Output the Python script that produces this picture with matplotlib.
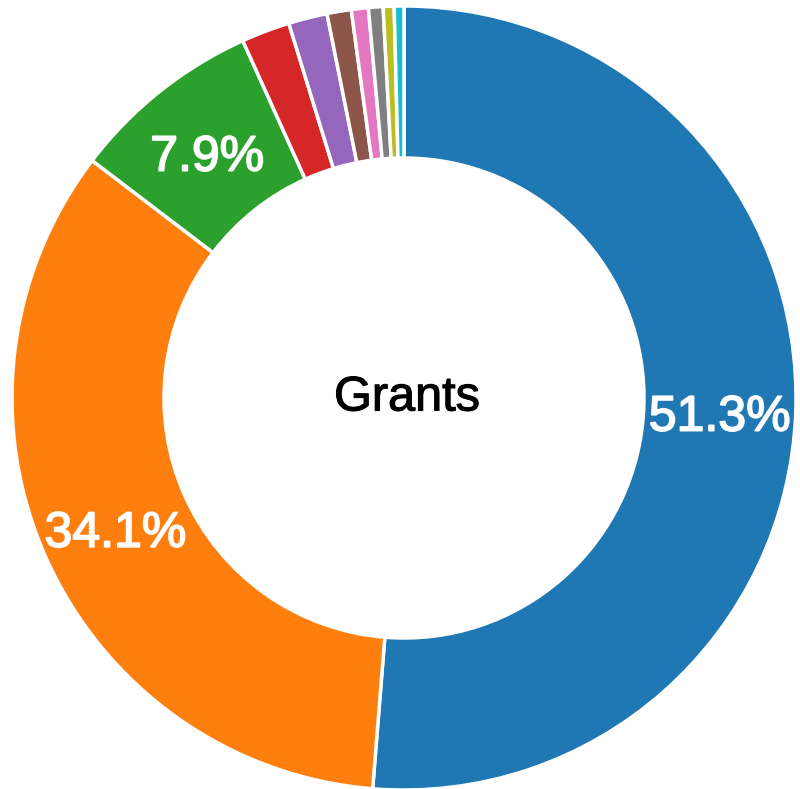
import matplotlib.pyplot as plt
import matplotlib.patheffects as pe

# Grant shares, clockwise from 12 o'clock
labels = ['A', 'B', 'C', 'D', 'E', 'F', 'G', 'H', 'I', 'J']
shares = [51.3, 34.1, 7.9, 2.0, 1.6, 1.0, 0.7, 0.6, 0.45, 0.4]
colors = ['#1f77b4', '#ff7f0e', '#2ca02c', '#d62728', '#9467bd',
          '#8c564b', '#e377c2', '#7f7f7f', '#bcbd22', '#17becf']
center_text = 'Grants'

plt.rcParams['font.family'] = ['Liberation Sans', 'DejaVu Sans']

fig = plt.figure(figsize=(8, 7.89), dpi=100)
ax = fig.add_axes([0, 0, 1, 1])

outer = 392
inner = 240


def fmt(p):
    return '%.1f%%' % p if p >= 5 else ''


wedges, texts, autotexts = ax.pie(
    shares, colors=colors, startangle=90, counterclock=False,
    radius=outer, autopct=fmt, pctdistance=(outer + inner) / 2 / outer,
    wedgeprops=dict(width=outer - inner, edgecolor='white', linewidth=2.5),
    textprops=dict(color='white', fontsize=36))

# slightly heavier strokes, and sit the labels a bit lower like the original
for t in autotexts:
    x, y = t.get_position()
    t.set_position((x, y - 7))
    t.set_path_effects([pe.withStroke(linewidth=1.2, foreground='white')])

ax.text(3, 0, center_text, ha='center', va='center', fontsize=35, color='black',
        path_effects=[pe.withStroke(linewidth=0.8, foreground='black')])

ax.set_xlim(-404, 396)
ax.set_ylim(-391, 398)
ax.set_aspect('auto')
ax.axis('off')

fig.savefig('out.png', dpi=100)
